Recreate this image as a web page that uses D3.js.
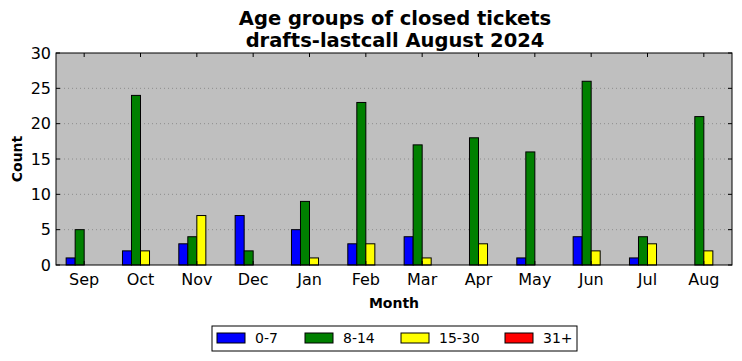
<!DOCTYPE html>
<html><head><meta charset="utf-8">
<script src="https://cdn.jsdelivr.net/npm/d3@7"></script>
<style>body{margin:0;background:#fff;} svg{display:block;font-family:"DejaVu Sans",sans-serif;}</style>
</head><body><svg id="c" width="742" height="361"></svg>
<script>
const months = ["Sep","Oct","Nov","Dec","Jan","Feb","Mar","Apr","May","Jun","Jul","Aug"];
const seriesNames = ["0-7","8-14","15-30","31+"];
const seriesColors = ["#0000ff","#008000","#ffff00","#ff0000"];
const s0_7 = [1,2,3,7,5,3,4,0,1,4,1,0];
const s8_14 = [5,24,4,2,9,23,17,18,16,26,4,21];
const s15_30 = [0,2,7,0,1,3,1,3,0,2,3,2];
const s31 = [0,0,0,0,0,0,0,0,0,0,0,0];
const yTicks = [0,5,10,15,20,25,30];
const series = [s0_7,s8_14,s15_30,s31];

const svg = d3.select("#c");
const L=56, R=732, T=53, B=265;
const x = d3.scaleLinear().domain([-0.5, 11.5]).range([L,R]);
const y = d3.scaleLinear().domain([0,30]).range([B,T]);
const bw = 0.16;

svg.append("rect").attr("x",L).attr("y",T).attr("width",R-L).attr("height",B-T).attr("fill","#bfbfbf");
// grid
svg.append("g").selectAll("line").data(yTicks.slice(1,-1)).join("line")
  .attr("x1",L).attr("x2",R).attr("y1",d=>y(d)).attr("y2",d=>y(d))
  .attr("stroke","#808080").attr("stroke-width",0.8).attr("stroke-dasharray","1,3");
// bars
series.forEach((vals,si)=>{
  svg.append("g").selectAll("rect").data(vals).join("rect")
    .attr("x",(d,i)=>x(i+(si-2)*bw))
    .attr("width",x(bw)-x(0))
    .attr("y",d=>y(d)).attr("height",d=>y(0)-y(d))
    .attr("fill",seriesColors[si]).attr("stroke","#000").attr("stroke-width",1);
});
// frame
svg.append("rect").attr("x",L).attr("y",T).attr("width",R-L).attr("height",B-T).attr("fill","none").attr("stroke","#000").attr("stroke-width",1);
// y ticks both sides
const gy = svg.append("g");
yTicks.forEach(t=>{
  gy.append("line").attr("x1",L).attr("x2",L+4).attr("y1",y(t)).attr("y2",y(t)).attr("stroke","#000");
  gy.append("line").attr("x1",R).attr("x2",R-4).attr("y1",y(t)).attr("y2",y(t)).attr("stroke","#000");
  gy.append("text").attr("x",L-5).attr("y",y(t)).attr("dy","0.36em").attr("text-anchor","end").attr("font-size",16).text(t);
});
const gx = svg.append("g");
months.forEach((m,i)=>{
  gx.append("line").attr("x1",x(i)).attr("x2",x(i)).attr("y1",B).attr("y2",B-4).attr("stroke","#000");
  gx.append("line").attr("x1",x(i)).attr("x2",x(i)).attr("y1",T).attr("y2",T+4).attr("stroke","#000");
  gx.append("text").attr("x",x(i)).attr("y",B+20).attr("text-anchor","middle").attr("font-size",16).text(m);
});
svg.append("text").attr("x",(L+R)/2).attr("y",308).attr("text-anchor","middle").attr("font-size",14).attr("font-weight","bold").text("Month");
svg.append("text").attr("transform",`translate(22,${(T+B)/2}) rotate(-90)`).attr("text-anchor","middle").attr("font-size",14).attr("font-weight","bold").text("Count");
svg.append("text").attr("x",(L+R)/2+1).attr("y",25).attr("text-anchor","middle").attr("font-size",19.5).attr("font-weight","bold").text("Age groups of closed tickets");
svg.append("text").attr("x",(L+R)/2+1).attr("y",47).attr("text-anchor","middle").attr("font-size",19.5).attr("font-weight","bold").text("drafts-lastcall August 2024");
// legend
const lg = svg.append("g");
lg.append("rect").attr("x",212).attr("y",326).attr("width",365).attr("height",25).attr("fill","#fff").attr("stroke","#000");
const lx = [217,305,401,505];
seriesNames.forEach((n,i)=>{
  lg.append("rect").attr("x",lx[i]).attr("y",333).attr("width",28).attr("height",10).attr("fill",seriesColors[i]).attr("stroke","#000");
  lg.append("text").attr("x",lx[i]+38).attr("y",343).attr("font-size",14).text(n);
});
</script></body></html>
